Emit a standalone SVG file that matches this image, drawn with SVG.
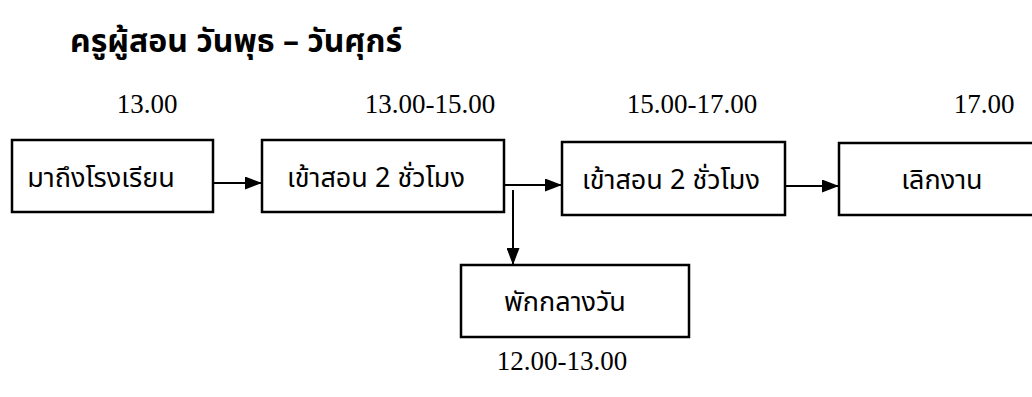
<svg xmlns="http://www.w3.org/2000/svg" width="1032" height="397" viewBox="0 0 1032 397">
<style>
.box{fill:#fff;stroke:#000;stroke-width:2.5}
.lbl{font-family:"Noto Sans Thai","Noto Sans","DejaVu Sans",sans-serif;font-size:27px;fill:#000;text-anchor:middle}
.time{font-family:"Liberation Serif","Times New Roman",serif;font-size:27px;fill:#000;text-anchor:middle}
.title{font-family:"Noto Sans Thai","Noto Sans","DejaVu Sans",sans-serif;font-size:32px;font-weight:bold;fill:#000}
.ln{stroke:#000;stroke-width:2;fill:none}
</style>
<defs>
<marker id="ah" viewBox="0 0 17 13" refX="17" refY="6.5" markerWidth="17" markerHeight="13" markerUnits="userSpaceOnUse" orient="auto">
<path d="M0,0 L17,6.5 L0,13 Z" fill="#000"/>
</marker>
</defs>
<rect width="1032" height="397" fill="#fff"/>
<text class="title" x="70" y="52">ครูผู้สอน วันพุธ – วันศุกร์</text>
<g id="times">
<text class="time" x="147" y="113">13.00</text>
<text class="time" x="430" y="113">13.00-15.00</text>
<text class="time" x="692" y="113">15.00-17.00</text>
<text class="time" x="984" y="113">17.00</text>
<text class="time" x="562" y="370">12.00-13.00</text>
</g>
<g id="n1"><rect class="box" x="12" y="140" width="201" height="72"/><text class="lbl" x="101" y="187">มาถึงโรงเรียน</text></g>
<g id="n2"><rect class="box" x="262" y="140" width="242" height="72"/><text class="lbl" x="376" y="187">เข้าสอน 2 ชั่วโมง</text></g>
<g id="n3"><rect class="box" x="562" y="142" width="223" height="73"/><text class="lbl" x="671" y="189">เข้าสอน 2 ชั่วโมง</text></g>
<g id="n4"><rect class="box" x="839" y="143" width="200" height="72"/><text class="lbl" x="942" y="189">เลิกงาน</text></g>
<g id="n5"><rect class="box" x="461" y="265" width="228" height="72"/><text class="lbl" x="565" y="311">พักกลางวัน</text></g>
<g id="connectors">
<line class="ln" x1="213" y1="183" x2="262" y2="183" marker-end="url(#ah)"/>
<line class="ln" x1="504" y1="185" x2="562" y2="185" marker-end="url(#ah)"/>
<line class="ln" x1="513" y1="190" x2="513" y2="265" marker-end="url(#ah)"/>
<line class="ln" x1="785" y1="186" x2="839" y2="186" marker-end="url(#ah)"/>
</g>
</svg>
